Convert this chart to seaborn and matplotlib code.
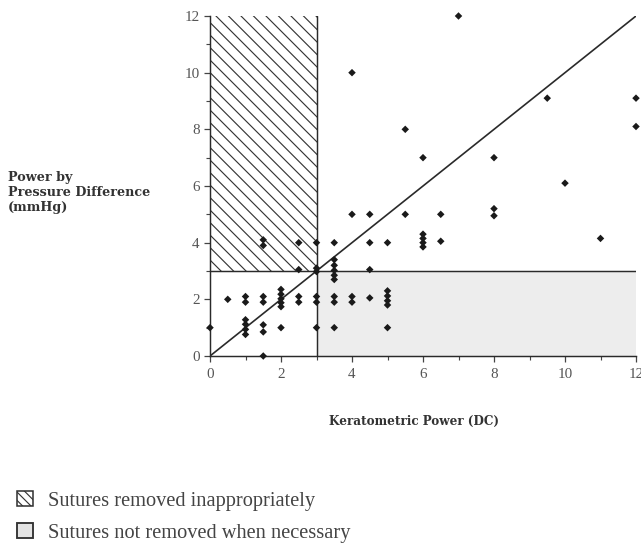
import numpy as np
import pandas as pd
import matplotlib
matplotlib.use("Agg")
import matplotlib.pyplot as plt
from matplotlib.patches import Patch
import seaborn as sns

# ---- data ----
keratometric_power = [0, 0.5, 1, 1, 1, 1, 1, 1, 1.5, 1.5, 1.5, 1.5, 1.5, 1.5, 1.5,
                      2, 2, 2, 2, 2, 2, 2.5, 2.5, 2.5, 2.5, 3, 3, 3, 3, 3, 3,
                      3.5, 3.5, 3.5, 3.5, 3.5, 3.5, 3.5, 3.5, 3.5,
                      4, 4, 4, 4, 4.5, 4.5, 4.5, 4.5, 5, 5, 5, 5, 5, 5,
                      5.5, 5.5, 6, 6, 6, 6, 6, 6.5, 6.5, 7, 8, 8, 8, 9.5, 10, 11, 12, 12]
pressure_power = [1, 2, 2.1, 1.9, 1.28, 1.12, 0.94, 0.76, 2.1, 1.9, 1.1, 0.85, 0, 4.1, 3.9,
                  2.35, 2.18, 2.02, 1.88, 1.74, 1, 2.1, 1.9, 4, 3.05, 2.1, 1.9, 1, 2.98, 3.1, 4,
                  4, 3.4, 3.2, 3.02, 2.85, 2.7, 2.1, 1.9, 1,
                  2.1, 1.9, 5, 10, 5, 4, 3.05, 2.05, 2.3, 2.12, 1.95, 1.8, 1, 4,
                  5, 8, 4.3, 4.15, 4.0, 3.85, 7, 5, 4.05, 12, 5.2, 4.95, 7, 9.1, 6.1, 4.15, 9.1, 8.1]
threshold_dc = 3
threshold_mmhg = 3
axis_max = 12
major_ticks = [0, 2, 4, 6, 8, 10, 12]
minor_ticks = [1, 3, 5, 7, 9, 11]
legend_labels = ["Sutures removed inappropriately", "Sutures not removed when necessary"]

df = pd.DataFrame({"k": keratometric_power, "p": pressure_power})

DPI = 75
W, H = 641, 545
sns.set_style("ticks")
plt.rcParams["font.family"] = ["Liberation Serif", "DejaVu Serif"]
plt.rcParams["hatch.linewidth"] = 1.1
plt.rcParams["hatch.color"] = "#333333"

fig = plt.figure(figsize=(W / DPI, H / DPI), dpi=DPI)
ax = fig.add_axes([210 / W, 1 - 356 / H, 426 / W, (356 - 16) / H])

ink = "#2a2a2a"
# shaded regions
ax.fill_between([threshold_dc, axis_max], 0, threshold_mmhg, color="#ededed", linewidth=0, zorder=0)
ax.fill_between([0, threshold_dc], threshold_mmhg, axis_max, facecolor="none",
                edgecolor="#333333", hatch="\\\\", linewidth=0, zorder=1)
ax.axvline(threshold_dc, color=ink, lw=1.4, zorder=2)
ax.axhline(threshold_mmhg, color=ink, lw=1.4, zorder=2)
ax.axline((0, 0), slope=1, color=ink, lw=1.6, zorder=2)

sns.scatterplot(data=df, x="k", y="p", marker="D", s=26, color="#1a1a1a",
                edgecolor="none", linewidth=0, ax=ax, zorder=3, clip_on=False)

ax.set_xlim(0, axis_max)
ax.set_ylim(0, axis_max)
ax.set_xticks(major_ticks)
ax.set_yticks(major_ticks)
ax.set_xticks(minor_ticks, minor=True)
ax.set_yticks(minor_ticks, minor=True)
ax.tick_params(which="major", direction="out", length=6, width=1.2, color="#444",
               labelsize=14.5, labelcolor="#555", pad=4)
ax.tick_params(axis="x", which="major", pad=6)
ax.tick_params(which="minor", direction="out", length=3.5, width=1.1, color="#444")
for s in ["top", "right"]:
    ax.spines[s].set_visible(False)
for s in ["left", "bottom"]:
    ax.spines[s].set_color(ink)
    ax.spines[s].set_linewidth(1.4)

ax.set_xlabel("Keratometric Power (DC)", fontsize=11.5, fontweight="bold", color="#333",
              fontfamily="DejaVu Serif")
ax.xaxis.set_label_coords(0.478, -0.172)
ax.set_ylabel("")

fig.text(8 / W, 1 - 192 / H, "Power by\nPressure Difference\n(mmHg)", ha="left", va="center",
         fontsize=12.3, fontweight="bold", color="#333", linespacing=1.2,
         fontfamily="DejaVu Serif")

handles = [Patch(facecolor="white", edgecolor="#333", hatch="\\\\\\", linewidth=1.5),
           Patch(facecolor="#e4e4e4", edgecolor="#333", linewidth=1.8)]
fig.legend(handles, legend_labels, loc="upper left", bbox_to_anchor=(17 / W, 1 - 491 / H),
           frameon=False, fontsize=19.5, handlelength=0.78, handleheight=0.78,
           handletextpad=0.75, labelspacing=0.6, borderpad=0, borderaxespad=0,
           labelcolor="#444")

fig.savefig("out.png", dpi=DPI)
